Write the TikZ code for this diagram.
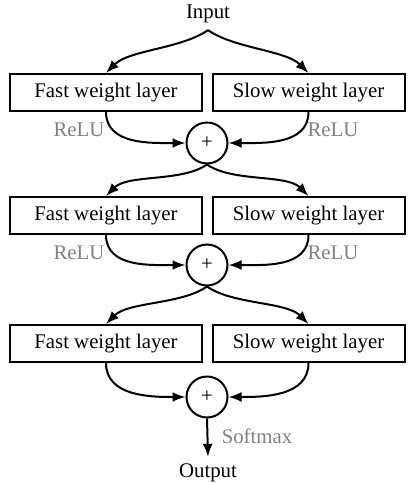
\documentclass[tikz,border=0pt]{standalone}
\usepackage{fontspec}
\setmainfont{Liberation Serif}
\usetikzlibrary{arrows.meta}
\tikzset{
  layer/.style={draw,line width=1pt,minimum width=96pt,minimum height=18.5pt,inner sep=0pt},
  adder/.style={draw,circle,line width=1pt,minimum size=20.5pt,inner sep=0pt},
  act/.style={text=black!50},
  flow/.style={-{Latex[length=6.5pt,width=5pt]},line width=1pt},
  split/.style={flow,looseness=0.75}
}
\begin{document}
\begin{tikzpicture}[x=0.5pt,y=0.5pt,font=\fontsize{10.4pt}{12pt}\selectfont]
\useasboundingbox (0,0) rectangle (409,-483);
\node (in) at (208,-14) {Input};
\node[layer] (f1) at (106,-92.5) {Fast weight layer};
\node[layer] (s1) at (308.5,-92.5) {Slow weight layer};
\node[adder] (p1) at (207,-143) {+};
\node[layer] (f2) at (106,-215.5) {Fast weight layer};
\node[layer] (s2) at (308.5,-215.5) {Slow weight layer};
\node[adder] (p2) at (207,-265) {+};
\node[layer] (f3) at (106,-343.5) {Fast weight layer};
\node[layer] (s3) at (308.5,-343.5) {Slow weight layer};
\node[adder] (p3) at (207,-397) {+};
\node (out) at (208,-473) {Output};
\node[act] (r1) at (79,-130) {ReLU};
\node[act] (r2) at (333,-130) {ReLU};
\node[act] (r3) at (79,-253) {ReLU};
\node[act] (r4) at (333,-253) {ReLU};
\node[act] (sm) at (257,-436) {Softmax};
% split
\draw[split] (in.south) to[out=-145,in=45] (f1.north);
\draw[split] (in.south) to[out=-35,in=135] (s1.north);
\draw[split] (p1.south) to[out=-145,in=45] (f2.north);
\draw[split] (p1.south) to[out=-35,in=135] (s2.north);
\draw[split] (p2.south) to[out=-145,in=45] (f3.north);
\draw[split] (p2.south) to[out=-35,in=135] (s3.north);
% merge
\draw[flow] (f1.south) to[out=-90,in=180] (p1.west);
\draw[flow] (s1.south) to[out=-90,in=0] (p1.east);
\draw[flow] (f2.south) to[out=-90,in=180] (p2.west);
\draw[flow] (s2.south) to[out=-90,in=0] (p2.east);
\draw[flow] (f3.south) to[out=-90,in=180] (p3.west);
\draw[flow] (s3.south) to[out=-90,in=0] (p3.east);
\draw[flow] (p3.south) -- (out.north);
\end{tikzpicture}
\end{document}
